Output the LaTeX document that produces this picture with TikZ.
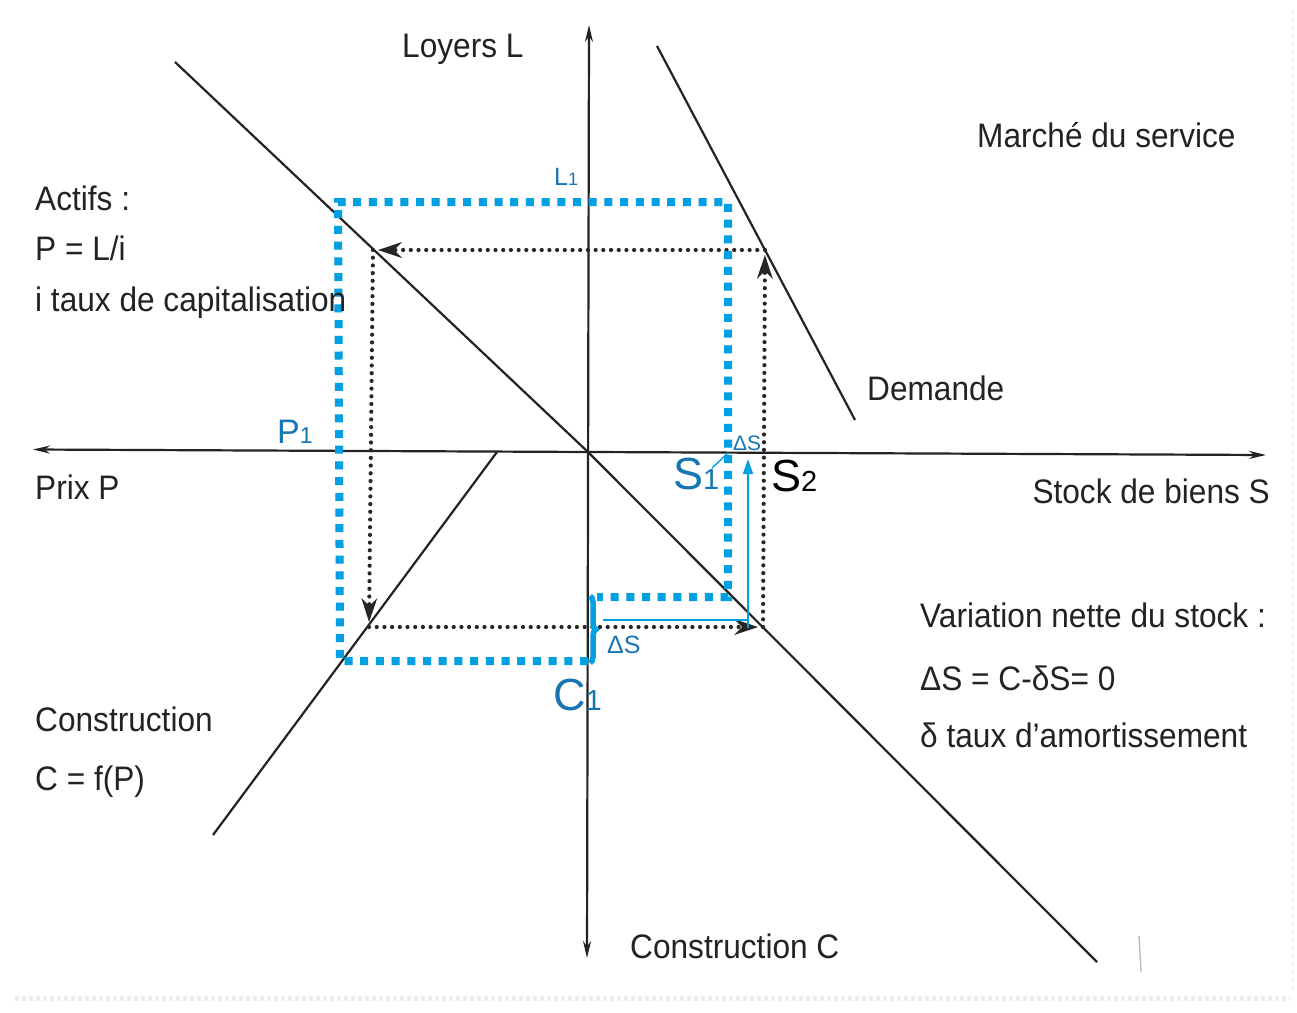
\documentclass[tikz,border=0pt]{standalone}
\usepackage{fontspec}
\setmainfont{Liberation Sans}
\newfontfamily\condfont[FakeStretch=0.93]{Liberation Sans}
\usetikzlibrary{arrows.meta,decorations.pathreplacing}
\definecolor{bluedot}{RGB}{0,160,227}
\definecolor{bluetxt}{RGB}{22,118,178}
\definecolor{ink}{RGB}{35,35,35}
\begin{document}
\begin{tikzpicture}[x=1pt,y=-1pt,
  lbl/.style={font=\condfont\fontsize{34}{34}\selectfont, text=ink, inner sep=0pt, anchor=base west},
  curveline/.style={line width=2.2pt, draw=ink},
  axisline/.style={line width=2.2pt, draw=ink, {Stealth[length=17pt,width=8pt]}-{Stealth[length=17pt,width=8pt]}},
  dotline/.style={line width=4.2pt, dash pattern=on 0pt off 7.7pt, line cap=round, draw=black!85},
  arrowdot/.style={dotline, -{Stealth[length=24pt,width=16pt,inset=8pt,line width=0pt]}, shorten >=5pt},
  bluedots/.style={line width=8pt, dash pattern=on 8pt off 7.7pt, draw=bluedot},
  bluelbl/.style={text=bluetxt, inner sep=0pt, anchor=base west}
]
\useasboundingbox (0,0) rectangle (1297,1012);
\fill[white] (0,0) rectangle (1297,1012);

% faint scan artefacts
\draw[gray!14, line width=5pt, dash pattern=on 4pt off 3pt] (15,998) -- (1290,998);
\draw[gray!12, line width=2pt, dash pattern=on 3pt off 5pt] (1293,10) -- (1293,990);
\draw[gray!55, line width=1.3pt] (1139,936) -- (1141,972);

% key points
\coordinate (O) at (588,452);
\coordinate (yTop) at (589,25);
\coordinate (yBot) at (587,958);
\coordinate (xL) at (33,449.5);
\coordinate (xR) at (1266,455);
\coordinate (aTop) at (175,62);
\coordinate (dBot) at (1097,962);
\coordinate (dmTop) at (657,46);
\coordinate (dmBot) at (855,420);
\coordinate (cTop) at (497,452);
\coordinate (cBot) at (213,835);
\coordinate (qTL) at (373,250);
\coordinate (qTR) at (765,250);
\coordinate (qBR) at (763,627);
\coordinate (qBL) at (369,627);

% axes
\draw[axisline] (yBot) -- (yTop);
\draw[axisline] (xL) -- (xR);

% curves
\draw[curveline] (aTop) -- (O) -- (dBot);
\draw[curveline] (dmTop) -- (dmBot);
\draw[curveline] (cTop) -- (cBot);

% black dotted cycle
\draw[arrowdot] (qTR) -- (qTL);
\draw[arrowdot] (qTL) -- (qBL);
\draw[arrowdot] (qBL) -- (qBR);
\draw[arrowdot] (qBR) -- (qTR);

% blue dotted rectangle
\coordinate (rBL) at (340,661);
\coordinate (rTL) at (338,202);
\coordinate (rTR) at (728,202);
\coordinate (rBR) at (728,597);
\coordinate (bB) at (588,661);
\coordinate (bT) at (597,597);
\begin{scope}[xshift=2.5pt,yshift=-3.5pt]
\draw[bluedots, draw=gray, opacity=0.18] (bB) -- (rBL) -- (rTL) -- (rTR) -- (rBR) -- (bT);
\end{scope}
\draw[bluedots] (bB) -- (rBL) -- (rTL) -- (rTR) -- (rBR) -- (bT);

% brace
\coordinate (brT) at (590,596);
\coordinate (brB) at (590,663);
\draw[draw=bluedot, line width=5.5pt, decorate, decoration={brace, amplitude=6pt}] (brT) -- (brB);

% blue thin arrow
\coordinate (ba1) at (603,620);
\coordinate (ba2) at (748,620);
\coordinate (ba0) at (748,628);
\coordinate (ba3) at (748,459);
\draw[draw=bluedot, line width=1.6pt] (ba1) -- (ba2);
\draw[draw=bluedot, line width=1.6pt, -{Triangle[length=15pt,width=10pt]}] (ba0) -- (ba3);

% leader line S1
\coordinate (ld1) at (712,468);
\coordinate (ld2) at (728,453);
\draw[draw=bluedot, line width=1.4pt] (ld1) -- (ld2);

% black labels
\node[lbl] (tLoy) at (402,57) {Loyers L};
\node[lbl] (tMar) at (977,147) {Marché du service};
\node[lbl] (tAct) at (35,210) {Actifs :};
\node[lbl] (tPL) at (35,260) {P = L/i};
\node[lbl] (tTaux) at (35,311) {i taux de capitalisation};
\node[lbl] (tDem) at (867,400) {Demande};
\node[lbl] (tPrix) at (35,499) {Prix P};
\node[lbl, anchor=base east] (tStock) at (1270,503) {Stock de biens S};
\node[lbl] (tVar) at (920,627) {Variation nette du stock :};
\node[lbl] (tEq) at (920,690) {ΔS = C-δS= 0};
\node[lbl] (tDel) at (920,747) {δ taux d’amortissement};
\node[lbl] (tCons) at (35,731) {Construction};
\node[lbl] (tCf) at (35,790) {C = f(P)};
\node[lbl] (tConsC) at (630,958) {Construction C};

% blue labels
\node[bluelbl] (L1) at (554,185) {\fontsize{25}{25}\selectfont L\fontsize{18}{18}\selectfont 1};
\node[bluelbl] (P1) at (277,443) {\fontsize{34}{34}\selectfont P\fontsize{23}{23}\selectfont 1};
\node[bluelbl] (S1) at (673,489) {\fontsize{45}{45}\selectfont S\fontsize{29}{29}\selectfont 1};
\node[bluelbl, text=black] (S2) at (771,491) {\fontsize{45}{45}\selectfont S\fontsize{29}{29}\selectfont 2};
\node[bluelbl] (C1) at (553,710) {\fontsize{45}{45}\selectfont C\fontsize{29}{29}\selectfont 1};
\node[bluelbl] (dS1) at (733,450) {\fontsize{21}{21}\selectfont ΔS};
\node[bluelbl] (dS2) at (607,653) {\fontsize{25}{25}\selectfont ΔS};
\end{tikzpicture}
\end{document}
